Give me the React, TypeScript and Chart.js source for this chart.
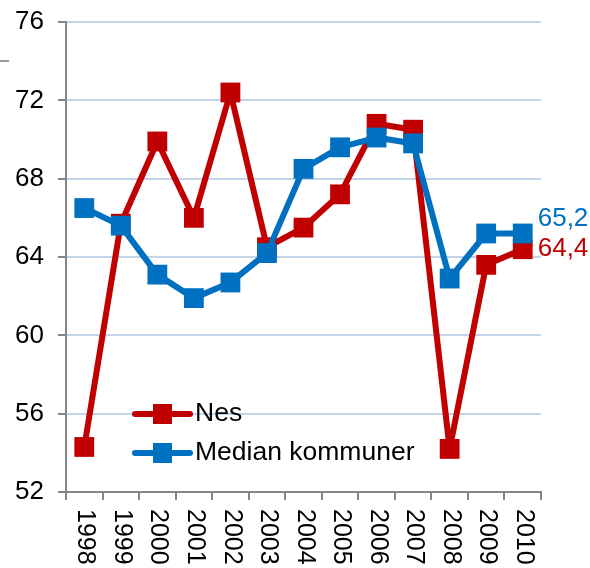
import React, { useEffect, useRef } from 'react';
import { Chart, registerables } from 'chart.js';

Chart.register(...registerables);

const years = ['1998', '1999', '2000', '2001', '2002', '2003', '2004', '2005', '2006', '2007', '2008', '2009', '2010'];
const nesValues = [54.3, 65.7, 69.9, 66.0, 72.4, 64.5, 65.5, 67.2, 70.8, 70.5, 54.2, 63.6, 64.4];
const medianValues = [66.5, 65.6, 63.1, 61.9, 62.7, 64.2, 68.5, 69.6, 70.1, 69.8, 62.9, 65.2, 65.2];
const seriesNames = ['Nes', 'Median kommuner'];
const endLabels = ['64,4', '65,2'];
const yMin = 52;
const yMax = 76;
const yStep = 4;

const RED = '#C00000';
const BLUE = '#0070C0';
const GRAY = '#868686';
const FONT = '"Liberation Sans", Arial, sans-serif';

const overlay = {
  id: 'overlay',
  afterDraw(chart: any) {
    const ctx = chart.ctx;
    const area = chart.chartArea;
    const xScale = chart.scales.x;
    ctx.save();
    // small gray mark at top-left
    ctx.strokeStyle = '#9a9a9a';
    ctx.lineWidth = 2;
    ctx.beginPath();
    ctx.moveTo(0, 61);
    ctx.lineTo(9, 61);
    ctx.stroke();

    // x labels rotated clockwise
    ctx.fillStyle = '#000';
    ctx.font = `25px ${FONT}`;
    ctx.textAlign = 'left';
    ctx.textBaseline = 'middle';
    years.forEach((lbl, i) => {
      const x = xScale.getPixelForValue(i);
      ctx.save();
      ctx.translate(x + 1, area.bottom + 17);
      ctx.rotate(Math.PI / 2);
      ctx.fillText(lbl, 0, 0);
      ctx.restore();
    });

    // end labels
    const colors = [RED, BLUE];
    const offsets = [0, -15];
    ctx.font = `26px ${FONT}`;
    chart.data.datasets.forEach((ds: any, di: number) => {
      const meta = chart.getDatasetMeta(di);
      const pt = meta.data[meta.data.length - 1];
      ctx.fillStyle = colors[di];
      ctx.textAlign = 'left';
      ctx.textBaseline = 'middle';
      ctx.fillText(endLabels[di], pt.x + 15, pt.y + offsets[di]);
    });

    // legend
    ctx.font = `26.5px ${FONT}`;
    const lx = area.left + 69;
    const rows = [area.bottom - 78, area.bottom - 39];
    seriesNames.forEach((name, i) => {
      const y = rows[i];
      ctx.strokeStyle = colors[i];
      ctx.lineWidth = 6;
      ctx.lineCap = 'round';
      ctx.beginPath();
      ctx.moveTo(lx, y);
      ctx.lineTo(lx + 55, y);
      ctx.stroke();
      ctx.fillStyle = colors[i];
      ctx.fillRect(lx + 18, y - 10, 19, 20);
      ctx.fillStyle = '#000';
      ctx.textAlign = 'left';
      ctx.textBaseline = 'middle';
      ctx.fillText(name, lx + 60, y);
    });
    ctx.restore();
  },
};

export default function App() {
  const ref = useRef<HTMLCanvasElement | null>(null);
  useEffect(() => {
    if (!ref.current) return;
    const chart = new Chart(ref.current, {
      type: 'line',
      data: {
        labels: years,
        datasets: [
          {
            label: seriesNames[0],
            data: nesValues,
            borderColor: RED,
            backgroundColor: RED,
            borderWidth: 6,
            borderJoinStyle: 'round',
            pointStyle: 'rect',
            pointRadius: 14,
            pointBorderWidth: 0,
            pointBackgroundColor: RED,
            tension: 0,
            order: 2,
          },
          {
            label: seriesNames[1],
            data: medianValues,
            borderColor: BLUE,
            backgroundColor: BLUE,
            borderWidth: 6,
            borderJoinStyle: 'round',
            pointStyle: 'rect',
            pointRadius: 14,
            pointBorderWidth: 0,
            pointBackgroundColor: BLUE,
            tension: 0,
            order: 1,
          },
        ],
      },
      options: {
        responsive: false,
        animation: false,
        layout: { padding: { top: 22, right: 49, left: 0, bottom: 0 } },
        plugins: {
          legend: { display: false },
          tooltip: { enabled: false },
          title: { display: false },
        },
        scales: {
          x: {
            offset: true,
            ticks: { display: false },
            grid: {
              offset: true,
              drawOnChartArea: false,
              drawTicks: true,
              tickLength: 8,
              color: GRAY,
              lineWidth: 2,
            },
            border: { color: GRAY, width: 2 },
            afterFit: (s: any) => {
              s.height = 76;
              s.paddingLeft = 0;
              s.paddingRight = 0;
            },
          },
          y: {
            min: yMin,
            max: yMax,
            ticks: {
              stepSize: yStep,
              color: '#000',
              font: { size: 26, family: FONT },
              padding: 14,
            },
            grid: {
              color: (c: any) => (c.tick && c.tick.value === yMin ? 'rgba(0,0,0,0)' : '#C3D3E8'),
              lineWidth: 2,
              tickColor: GRAY,
              tickLength: 8,
              drawTicks: true,
            },
            border: { color: GRAY, width: 2 },
            afterFit: (s: any) => {
              s.width = 66;
              s.paddingTop = 0;
              s.paddingBottom = 0;
            },
          },
        },
      },
      plugins: [overlay],
    });
    return () => chart.destroy();
  }, []);
  return (
    <canvas
      ref={ref}
      width={590}
      height={568}
      style={{ position: 'absolute', left: 0, top: 0, width: 590, height: 568 }}
    />
  );
}
